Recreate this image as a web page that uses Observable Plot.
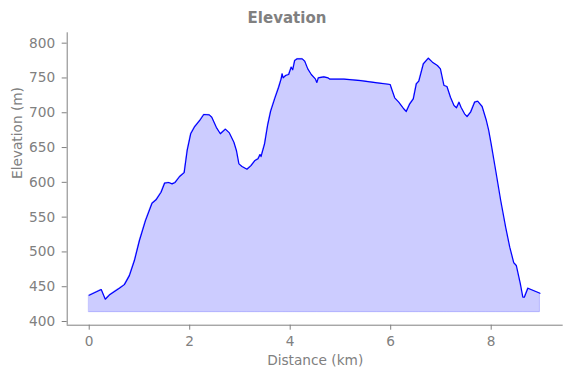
<!DOCTYPE html>
<html>
<head>
<meta charset="utf-8">
<script src="https://cdn.jsdelivr.net/npm/d3@7"></script>
<script src="https://cdn.jsdelivr.net/npm/@observablehq/plot@0.6"></script>
<style>
  html, body { margin: 0; padding: 0; background: #fff; }
  #wrap { position: relative; width: 571px; height: 378px; }
  #title { position: absolute; left: 0; top: 11px; width: 574px; text-align: center;
    font-family: "DejaVu Sans", sans-serif; font-weight: bold; font-size: 15px; line-height: 15px; color: #808080; }
</style>
</head>
<body>
<div id="wrap"><div id="title">Elevation</div></div>
<script>
const distance = [0.00,0.24,0.32,0.40,0.54,0.60,0.70,0.80,0.90,1.00,1.12,1.25,1.33,1.43,1.50,1.58,1.65,1.71,1.80,1.89,1.95,2.02,2.10,2.20,2.28,2.39,2.44,2.53,2.61,2.71,2.79,2.88,2.93,2.98,3.04,3.14,3.22,3.30,3.36,3.40,3.42,3.49,3.55,3.61,3.69,3.77,3.82,3.84,3.86,3.91,3.97,4.02,4.05,4.09,4.14,4.24,4.29,4.35,4.42,4.50,4.53,4.56,4.67,4.75,4.79,5.07,5.40,5.73,5.99,6.03,6.08,6.16,6.25,6.31,6.38,6.45,6.51,6.56,6.65,6.75,6.83,6.93,6.99,7.06,7.12,7.19,7.26,7.31,7.36,7.40,7.47,7.52,7.59,7.67,7.73,7.82,7.90,7.95,8.00,8.09,8.19,8.29,8.37,8.45,8.50,8.58,8.63,8.66,8.73,8.97];
const elevation = [437.8,446,432,438,445,447.8,453,466,487.6,516.4,545,570,574.9,585.8,598.8,599.8,597.8,599.8,608.4,614,645.8,669.8,680.2,688.9,697.5,697,693.6,679,669.8,676.4,671,657.6,645.8,626.6,622.8,618.9,624,631.4,633.8,640,637,655.4,681.7,702,720,736.7,748.7,755.9,750.2,753.5,755,765.5,761.7,775.1,777.5,777.5,774.1,763.1,755,748.7,743.5,750.2,751.6,750.2,748.2,748.2,746.3,743,740.6,732,721.5,715.2,706.5,701.8,712.8,720,741.6,745.4,770.3,778.4,772.7,767.9,763.1,739.2,737.7,722.3,710.4,707.1,715.2,708,698.5,694.6,700.8,715.2,716.6,709,690,675,655.4,617,573.9,535,506.9,484.4,480.5,454.3,434.9,434.9,447.9,440.6];
const baseElevation = 413.4;
const xTicks = [0, 2, 4, 6, 8];
const yTicks = [400, 450, 500, 550, 600, 650, 700, 750, 800];
const titleText = "Elevation";
const xLabel = "Distance (km)";
const yLabel = "Elevation (m)";

const data = distance.map((d, i) => ({distance: d, elevation: elevation[i], base: baseElevation}));
const xDomain = [-0.438, 9.433];
const yDomain = [394.7, 814.9];
const gray = "#808080";
const font = "DejaVu Sans, sans-serif";
const fs = 13.7;

const chart = Plot.plot({
  width: 571,
  height: 378,
  marginLeft: 66.7,
  marginRight: 8.3,
  marginTop: 32.3,
  marginBottom: 53.3,
  style: {fontFamily: font, fontSize: fs + "px", color: gray, background: "white"},
  x: {domain: xDomain},
  y: {domain: yDomain},
  marks: [
    Plot.areaY(data, {x: "distance", y1: "base", y2: "elevation", fill: "blue", fillOpacity: 0.2, stroke: "blue", strokeOpacity: 0.2, strokeWidth: 1}),
    Plot.line(data, {x: "distance", y: "elevation", stroke: "blue", strokeWidth: 1.2}),
    Plot.ruleX([xDomain[0]], {stroke: gray, strokeWidth: 1}),
    Plot.ruleY([yDomain[0]], {stroke: gray, strokeWidth: 1}),
    Plot.axisX(xTicks, {tickSize: 5, tickPadding: 6, stroke: gray, fill: gray, label: null, fontSize: fs}),
    Plot.axisY(yTicks, {tickSize: 5, tickPadding: 7, stroke: gray, fill: gray, label: null, fontSize: fs}),
    Plot.text([xLabel], {frameAnchor: "bottom", dy: 35.5, lineAnchor: "middle", fill: gray, fontSize: fs}),
    Plot.text([yLabel], {frameAnchor: "left", dx: -50, rotate: -90, lineAnchor: "middle", fill: gray, fontSize: fs})
  ]
});
document.getElementById("wrap").appendChild(chart);
document.getElementById("title").textContent = titleText;
</script>
</body>
</html>
